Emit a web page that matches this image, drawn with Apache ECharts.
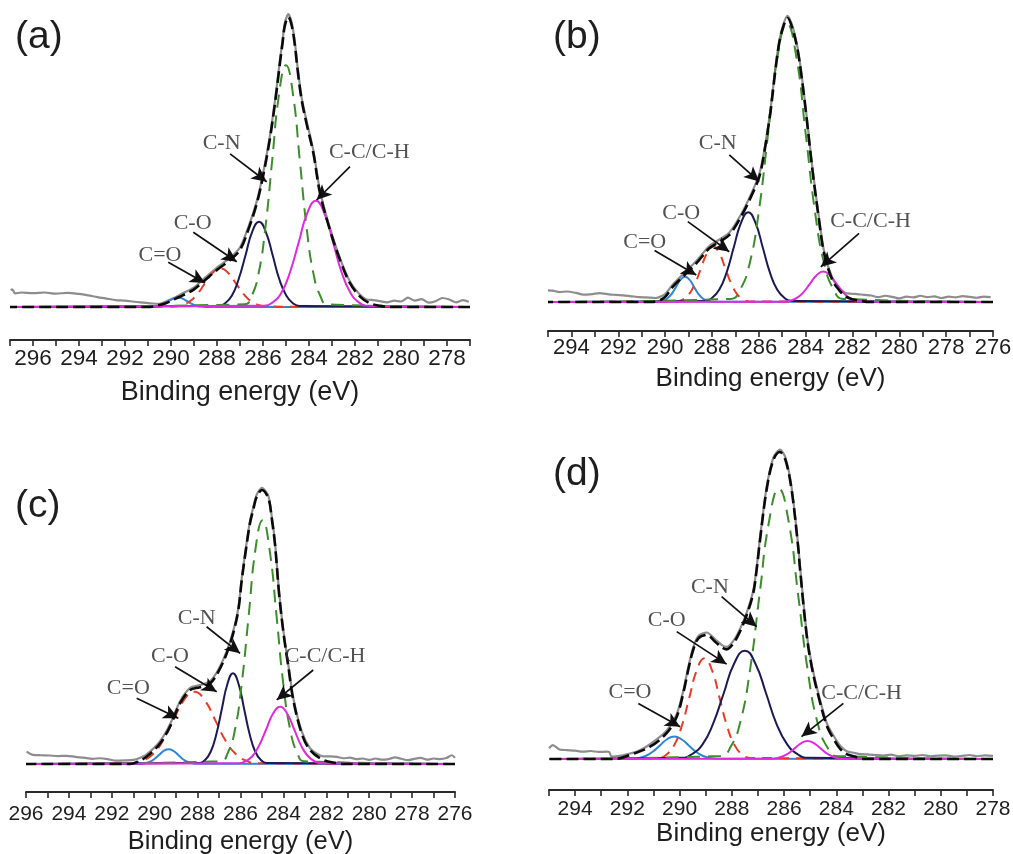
<!DOCTYPE html>
<html>
<head>
<meta charset="utf-8">
<script src="https://cdn.jsdelivr.net/npm/echarts/dist/echarts.min.js"></script>
<style>
  html, body { margin: 0; padding: 0; background: #ffffff; }
  #chart { width: 1013px; height: 854px; }
</style>
</head>
<body>
<div id="chart"></div>
<script>
// ---------- C 1s spectra: binding energy (eV) vs. intensity (peak of fit = 100) ----------

const panelTags = ['(a)', '(b)', '(c)', '(d)'];
const axisTitle = 'Binding energy (eV)';
const energyRanges = [[277, 297], [276, 295], [276, 296], [278, 295]];
const tickLabelsA = [296, 294, 292, 290, 288, 286, 284, 282, 280, 278];
const tickLabelsB = [294, 292, 290, 288, 286, 284, 282, 280, 278, 276];
const tickLabelsC = [296, 294, 292, 290, 288, 286, 284, 282, 280, 278, 276];
const tickLabelsD = [294, 292, 290, 288, 286, 284, 282, 280, 278];

// ----- (a) -----
const aRaw = [[277.05,1.8],[277.3,2.4],[277.6,1.6],[277.9,2.6],[278.2,3.1],[278.5,2.0],[278.8,1.5],[279.1,2.7],[279.4,2.2],[279.7,3.2],[280.0,1.9],[280.3,2.2],[280.6,1.6],[280.9,2.0],[281.2,2.4],[281.5,2.6],[281.8,4.4],[282.22,8.8],[282.65,16.8],[283.09,27.2],[283.52,40],[283.81,54],[284.1,64],[284.32,72.2],[284.5,83],[284.61,91],[284.75,98],[284.9,101],[285.05,98],[285.15,92],[285.25,86],[285.45,73],[285.7,59],[286.0,46],[286.27,36.5],[286.64,27.5],[287.0,20.5],[287.43,17],[288.0,13.6],[288.6,9.5],[289.03,6.6],[289.47,4.8],[289.8,3.4],[290.2,2.0],[290.5,1.1],[290.8,1.2],[291.2,1.5],[291.6,1.8],[292.0,2.2],[292.4,2.4],[292.8,2.9],[293.2,3.4],[293.6,4.0],[294.0,4.5],[294.5,4.9],[295.0,4.6],[295.5,5.0],[296.0,4.8],[296.5,5.0],[296.78,4.7],[296.9,6.1],[296.97,5.8]];
const aFit = [[277,0],[280.5,0],[280.9,0.4],[281.35,1.3],[281.78,3.6],[282.22,8.2],[282.65,16.2],[283.09,26.6],[283.52,39.2],[283.81,53],[284.1,63],[284.32,71.4],[284.5,82],[284.61,90],[284.75,97],[284.9,100],[285.05,97],[285.15,91],[285.25,85],[285.45,72],[285.7,58],[286.0,45],[286.27,35.7],[286.64,26.6],[287.0,19.7],[287.43,16.2],[288.0,12.8],[288.6,8.7],[289.03,5.9],[289.47,4.1],[289.8,2.9],[290.2,1.4],[290.6,0.5],[291.0,0],[297,0]];
const aPeak1 = [[277,0],[288.5,0.04],[288.7,0.15],[288.9,0.45],[289.1,1.07],[289.3,2.0],[289.5,2.91],[289.7,3.3],[289.9,2.91],[290.1,2.0],[290.3,1.07],[290.5,0.45],[290.7,0.15],[290.9,0.04],[297,0]];
const aPeak2 = [[277,0],[285.81,0.15],[286.15,0.58],[286.49,1.8],[286.83,4.32],[287.17,8.07],[287.51,11.73],[287.85,13.3],[288.19,11.73],[288.53,8.07],[288.87,4.32],[289.21,1.8],[289.55,0.58],[289.89,0.15],[297,0]];
const aPeak3 = [[277,0],[284.40,0.33],[284.70,1.29],[284.99,3.97],[285.29,9.55],[285.58,17.84],[285.88,25.93],[286.17,29.4],[286.47,25.93],[286.76,17.84],[287.06,9.55],[287.35,3.97],[287.65,1.29],[287.94,0.33],[297,0]];
const aPeak4 = [[277,0],[283.2,0.93],[283.5,3.67],[283.8,11.26],[284.1,27.1],[284.4,50.6],[284.7,73.56],[285.0,83.4],[285.3,73.56],[285.6,50.6],[285.9,27.1],[286.2,11.26],[286.5,3.67],[286.8,0.93],[297,0]];
const aPeak5 = [[277,0],[281.45,0.41],[281.83,1.61],[282.2,4.94],[282.58,11.9],[282.95,22.2],[283.33,32.28],[283.7,36.6],[284.08,32.28],[284.45,22.2],[284.83,11.9],[285.2,4.94],[285.58,1.61],[285.95,0.41],[297,0]];
// [text, textX, textY, arrowFromX, arrowFromY, arrowToX, arrowToY]
const aNotes = [['C=O',290.48,17.9,290.12,15.4,288.52,8.3],['C-O',289.06,28.9,289.03,25.8,287.14,15.6],['C-N',287.8,56.4,287.43,52.8,285.84,43.2],['C-C/C-H',281.38,53.4,282.22,48.4,283.67,36.9]];

// ----- (b) -----
const bRaw = [[276.1,1.7],[276.4,1.9],[276.7,1.5],[277.0,1.8],[277.3,2.1],[277.6,1.6],[277.9,1.9],[278.2,1.4],[278.5,2.0],[278.8,1.7],[279.1,2.2],[279.4,1.6],[279.7,1.9],[280.0,1.3],[280.3,1.8],[280.6,2.2],[280.9,1.7],[281.2,2.3],[281.5,2.5],[281.8,2.8],[282.05,2.9],[282.3,3.2],[282.57,5.0],[282.86,8.4],[283.21,17.8],[283.43,29.6],[283.71,47.2],[283.99,67.8],[284.2,81.8],[284.35,89.8],[284.55,96.8],[284.77,100.8],[284.95,97.8],[285.13,91.8],[285.3,81.8],[285.5,67.8],[285.77,53.2],[285.98,45],[286.33,38],[286.76,30.8],[287.26,24.4],[287.68,22],[288.11,19.7],[288.67,14.4],[289.17,10.3],[289.67,6.2],[290.0,2.8],[290.4,1.4],[290.8,1.6],[291.1,1.7],[291.5,2.1],[291.8,2.3],[292.1,2.5],[292.4,2.7],[292.8,3.1],[293.1,2.8],[293.5,2.6],[293.8,3.2],[294.2,3.7],[294.5,3.5],[294.8,4.0],[295.0,4.1]];
const bFit = [[276,0],[281.3,0],[281.58,0.3],[282.0,1.0],[282.29,1.9],[282.57,4.2],[282.86,7.7],[283.21,17.1],[283.43,28.9],[283.71,46.5],[283.99,67],[284.2,81],[284.35,89],[284.55,96],[284.77,100],[284.95,97],[285.13,91],[285.3,81],[285.5,67],[285.77,52.4],[285.98,44.1],[286.33,37.1],[286.76,30],[287.26,23.6],[287.68,21.2],[288.11,18.9],[288.67,13.6],[289.17,9.5],[289.67,5.4],[290.0,1.8],[290.3,0.4],[290.6,0],[295,0]];
const bPeak1 = [[276,0],[288.01,0.1],[288.2,0.39],[288.39,1.2],[288.58,2.89],[288.77,5.4],[288.96,7.85],[289.15,8.9],[289.34,7.85],[289.53,5.4],[289.72,2.89],[289.91,1.2],[290.1,0.39],[290.29,0.1],[295,0]];
const bPeak2 = [[276,0],[286.39,0.21],[286.65,0.86],[286.91,2.63],[287.17,6.34],[287.43,11.84],[287.69,17.2],[287.95,19.5],[288.21,17.2],[288.47,11.84],[288.73,6.34],[288.99,2.63],[289.25,0.86],[289.51,0.21],[295,0]];
const bPeak3 = [[276,0],[284.59,0.35],[284.9,1.39],[285.21,4.27],[285.52,10.27],[285.83,19.18],[286.14,27.87],[286.45,31.6],[286.76,27.87],[287.07,19.18],[287.38,10.27],[287.69,4.27],[288.0,1.39],[288.31,0.35],[295,0]];
const bPeak4 = [[276,0],[282.4,1.09],[282.8,4.31],[283.2,13.23],[283.6,31.82],[284.0,59.44],[284.4,86.44],[284.8,98],[285.2,86.44],[285.6,59.44],[286.0,31.82],[286.4,13.23],[286.8,4.31],[287.2,1.09],[295,0]];
const bPeak5 = [[276,0],[281.57,0.12],[281.85,0.47],[282.13,1.44],[282.41,3.47],[282.69,6.49],[282.97,9.44],[283.25,10.7],[283.53,9.44],[283.81,6.49],[284.09,3.47],[284.37,1.44],[284.65,0.47],[284.93,0.12],[295,0]];
const bNotes = [['C=O',290.87,20.9,290.45,18.1,288.67,9.5],['C-O',289.31,31.2,289.03,28.3,287.26,17.7],['C-N',287.75,55.9,287.26,51.8,285.98,42.4],['C-C/C-H',281.23,28.3,281.72,24.2,283.35,12.4]];

// ----- (c) -----
const cRaw = [[276.0,2.3],[276.15,3.2],[276.4,2.2],[276.7,1.8],[277.0,2.0],[277.3,1.6],[277.6,2.2],[277.9,1.9],[278.2,1.4],[278.5,1.9],[278.8,2.4],[279.1,1.8],[279.4,1.6],[279.7,2.0],[280.0,1.5],[280.3,2.0],[280.6,1.8],[280.9,2.3],[281.2,2.1],[281.5,2.6],[281.8,2.8],[282.14,2.8],[282.4,3.6],[282.76,5.8],[283.15,12],[283.54,24.2],[283.77,36.3],[284.0,48.5],[284.2,62.8],[284.39,80.8],[284.55,90.8],[284.7,97.8],[285.0,100.8],[285.24,98.4],[285.4,93.8],[285.56,88.6],[285.75,78.8],[285.94,68],[286.1,57],[286.34,48.5],[286.64,41.2],[287.03,34.5],[287.42,30.2],[287.89,28.8],[288.35,27.8],[288.82,22.9],[289.29,14.4],[289.75,8.3],[290.37,3.5],[290.7,2.2],[291.0,1.5],[291.4,1.3],[291.8,1.2],[292.2,1.8],[292.55,2.1],[292.9,1.9],[293.3,2.3],[293.7,2.6],[294.1,3.0],[294.5,2.9],[294.9,3.1],[295.3,3.2],[295.67,3.3],[295.97,4.5]];
const cFit = [[276,0],[281.2,0],[281.52,0.3],[282.14,1.5],[282.76,5.1],[283.15,11.2],[283.54,23.4],[283.77,35.5],[284.0,48],[284.2,62],[284.39,80],[284.55,90],[284.7,97],[285.0,100],[285.24,97.6],[285.4,93],[285.56,87.8],[285.75,78],[285.94,67.2],[286.1,56.2],[286.34,47.7],[286.64,40.4],[287.03,33.7],[287.42,29.4],[287.89,28],[288.35,27],[288.82,22.1],[289.29,13.6],[289.75,7.5],[290.37,2.7],[290.8,0.8],[291.15,0],[296,0]];
const cPeak1 = [[276,0],[288.0,0.06],[288.23,0.24],[288.45,0.73],[288.68,1.75],[288.9,3.28],[289.13,4.76],[289.35,5.4],[289.58,4.76],[289.8,3.28],[290.03,1.75],[290.25,0.73],[290.48,0.24],[290.7,0.06],[296,0]];
const cPeak2 = [[276,0],[285.24,0.29],[285.73,1.16],[286.21,3.56],[286.7,8.58],[287.18,16.02],[287.67,23.28],[288.15,26.4],[288.64,23.28],[289.12,16.02],[289.61,8.58],[290.09,3.56],[290.58,1.16],[291.06,0.29],[296,0]];
const cPeak3 = [[276,0],[284.79,0.37],[285.05,1.46],[285.31,4.47],[285.57,10.76],[285.83,20.09],[286.09,29.2],[286.35,33.1],[286.61,29.2],[286.87,20.09],[287.13,10.76],[287.39,4.47],[287.65,1.46],[287.91,0.37],[296,0]];
const cPeak4 = [[276,0],[283.02,0.99],[283.35,3.92],[283.67,12.02],[284.0,28.93],[284.32,54.02],[284.65,78.5],[284.97,89],[285.3,78.5],[285.62,54.02],[285.95,28.93],[286.27,12.02],[286.6,3.92],[286.92,0.99],[296,0]];
const cPeak5 = [[276,0],[282.2,0.23],[282.53,0.92],[282.85,2.82],[283.18,6.79],[283.5,12.69],[283.83,18.43],[284.15,20.9],[284.48,18.43],[284.8,12.69],[285.13,6.79],[285.45,2.82],[285.78,0.92],[286.1,0.23],[296,0]];
const cNotes = [['C=O',291.23,27.6,290.84,24.0,288.9,16.7],['C-O',289.29,39.2,289.05,35.5,287.11,26.4],['C-N',288.04,53.2,287.58,50.1,286.02,40.4],['C-C/C-H',282.06,39.2,282.61,34.3,284.31,23.4]];

// ----- (d) -----
const dRaw = [[278.0,1.0],[278.3,1.2],[278.6,0.9],[278.9,1.3],[279.2,1.0],[279.5,0.8],[279.8,1.2],[280.1,1.1],[280.4,0.9],[280.7,1.3],[281.0,1.0],[281.3,1.2],[281.6,0.9],[281.9,1.4],[282.2,1.1],[282.5,1.3],[282.8,1.5],[283.1,1.6],[283.3,2.0],[283.6,2.5],[283.85,4.3],[284.12,7.8],[284.37,11.8],[284.7,21.8],[284.94,30.8],[285.13,40.8],[285.39,62.8],[285.46,69.8],[285.71,88.4],[285.95,98.3],[286.16,100.8],[286.41,98.2],[286.67,88.4],[286.92,72.1],[287.05,62.4],[287.18,54.8],[287.43,47.7],[287.69,42.3],[287.94,38.5],[288.2,36.5],[288.39,37.2],[288.64,39],[288.96,41.2],[289.28,40.1],[289.48,36.3],[289.67,29.8],[289.86,22.2],[290.11,14.6],[290.5,9.2],[291.13,4.8],[291.6,2.5],[291.9,1.8],[292.3,1.0],[292.6,0.8],[292.7,2.3],[292.8,2.4],[293.1,2.3],[293.4,2.6],[293.7,2.4],[294.0,2.7],[294.32,2.9],[294.6,3.1],[294.85,4.5],[295.0,3.5]];
const dFit = [[278,0],[283.0,0],[283.3,0.8],[283.6,1.6],[283.85,3.3],[284.12,6.8],[284.37,11],[284.7,21],[284.94,30],[285.13,40],[285.39,62],[285.46,69],[285.71,87.6],[285.95,97.5],[286.16,100],[286.41,97.4],[286.67,87.6],[286.92,71.3],[287.05,61.6],[287.18,54],[287.43,46.9],[287.69,41.5],[287.94,37.7],[288.2,35.7],[288.39,36.4],[288.64,38.2],[288.96,40.4],[289.28,39.3],[289.48,35.5],[289.67,29],[289.86,21.4],[290.11,13.8],[290.5,8.4],[291.13,4],[291.9,1.3],[292.3,0.2],[292.6,0],[295,0]];
const dPeak1 = [[278,0],[288.55,0.08],[288.83,0.32],[289.1,0.99],[289.38,2.37],[289.65,4.43],[289.93,6.44],[290.2,7.3],[290.48,6.44],[290.75,4.43],[291.03,2.37],[291.3,0.99],[291.58,0.32],[291.85,0.08],[295,0]];
const dPeak2 = [[278,0],[287.31,0.36],[287.6,1.44],[287.89,4.43],[288.18,10.66],[288.47,19.91],[288.76,28.93],[289.05,32.8],[289.34,28.93],[289.63,19.91],[289.92,10.66],[290.21,4.43],[290.5,1.44],[290.79,0.36],[295,0]];
const dPeak3 = [[278,0],[285.07,0.39],[285.48,1.55],[285.88,4.77],[286.29,11.47],[286.69,21.42],[287.1,31.13],[287.5,35.3],[287.91,31.13],[288.31,21.42],[288.72,11.47],[289.12,4.77],[289.53,1.55],[289.93,0.39],[295,0]];
const dPeak4 = [[278,0],[283.98,0.98],[284.35,3.87],[284.72,11.88],[285.09,28.6],[285.46,53.4],[285.83,77.6],[286.2,88],[286.57,77.6],[286.94,53.4],[287.31,28.6],[287.68,11.88],[288.05,3.87],[288.42,0.98],[295,0]];
const dPeak5 = [[278,0],[283.66,0.07],[283.9,0.26],[284.14,0.8],[284.38,1.92],[284.62,3.58],[284.86,5.2],[285.1,5.9],[285.34,5.2],[285.58,3.58],[285.82,1.92],[286.06,0.8],[286.3,0.26],[286.54,0.07],[295,0]];
const dNotes = [['C=O',291.9,21.7,291.58,18.1,289.98,10.5],['C-O',290.49,45.3,290.11,41.5,288.2,30.9],['C-N',288.84,56.1,288.39,52.9,287.05,43.1],['C-C/C-H',283.03,21.4,283.73,18.1,285.33,7.3]];

// ---------- assemble panels ----------
const panels = [
  { raw: aRaw, fit: aFit, peaks: [aPeak1, aPeak2, aPeak3, aPeak4, aPeak5], notes: aNotes, ticks: tickLabelsA },
  { raw: bRaw, fit: bFit, peaks: [bPeak1, bPeak2, bPeak3, bPeak4, bPeak5], notes: bNotes, ticks: tickLabelsB },
  { raw: cRaw, fit: cFit, peaks: [cPeak1, cPeak2, cPeak3, cPeak4, cPeak5], notes: cNotes, ticks: tickLabelsC },
  { raw: dRaw, fit: dFit, peaks: [dPeak1, dPeak2, dPeak3, dPeak4, dPeak5], notes: dNotes, ticks: tickLabelsD }
];

// page layout (pixels): axis ends, baseline, top of fit, axis line, fonts
const layout = [
  { x0: 10,  x1: 470, base: 307, top: 17,  axis: 340, tickFont: 22.5, tickMargin: 7,  titleFont: 27, nameGap: 39, tag: [15, 37] },
  { x0: 548, x1: 993, base: 302, top: 18,  axis: 331, tickFont: 22,   tickMargin: 6,  titleFont: 26, nameGap: 35, tag: [553, 37] },
  { x0: 26,  x1: 455, base: 764, top: 490, axis: 792, tickFont: 21,   tickMargin: 12, titleFont: 25.5, nameGap: 37, tag: [15, 506] },
  { x0: 549, x1: 993, base: 759, top: 452, axis: 790, tickFont: 21,   tickMargin: 9,  titleFont: 26, nameGap: 30, tag: [553, 474] }
];

const Y_MAX = 105;
const sansFont = '"Liberation Sans", Arial, Helvetica, sans-serif';
const serifFont = '"Liberation Serif", "Times New Roman", serif';

// component styles, from high to low binding energy
const peakColors = ['#2e86d8', '#ec3b24', '#1c1a55', '#3b8f2b', '#e02ae0'];
const peakDash = ['solid', [10, 7], 'solid', [13, 8], 'solid'];
const peakZ = [3, 3, 3, 3, 4];

const grids = [], xAxes = [], yAxes = [], series = [], graphics = [];

panels.forEach((p, i) => {
  const L = layout[i];
  const unit = (L.base - L.top) / 100;           // pixels per intensity unit
  const gridTop = L.base - Y_MAX * unit;
  grids.push({
    left: L.x0, width: L.x1 - L.x0,
    top: gridTop, height: L.axis - gridTop,
    containLabel: false, outerBoundsMode: 'none'
  });
  const ticks = p.ticks;
  xAxes.push({
    type: 'value', gridIndex: i, inverse: true,
    min: energyRanges[i][0], max: energyRanges[i][1], interval: 1,
    position: 'bottom',
    axisLine: { show: true, onZero: false, lineStyle: { color: '#2a2a2a', width: 2 } },
    axisTick: { show: true, inside: false, length: 6, lineStyle: { color: '#2a2a2a', width: 1.6 } },
    axisLabel: {
      show: true, margin: L.tickMargin, fontSize: L.tickFont, color: '#1e1e1e',
      fontFamily: sansFont,
      formatter: v => (ticks.indexOf(v) >= 0 ? String(v) : '')
    },
    splitLine: { show: false },
    name: axisTitle, nameLocation: 'middle', nameGap: L.nameGap,
    nameTextStyle: { fontSize: L.titleFont, color: '#1e1e1e', fontFamily: sansFont }
  });
  yAxes.push({
    type: 'value', gridIndex: i, show: false,
    min: -(L.axis - L.base) / unit, max: Y_MAX
  });

  const common = { xAxisIndex: i, yAxisIndex: i, type: 'line', symbol: 'none', silent: true, animation: false, emphasis: { disabled: true } };

  // measured spectrum
  series.push(Object.assign({}, common, {
    data: p.raw, smooth: 0.25, z: 2,
    lineStyle: { color: '#8d8d8d', width: 2.2 }
  }));
  // fitted components
  p.peaks.forEach((pk, k) => {
    series.push(Object.assign({}, common, {
      data: pk, smooth: 0.5, z: peakZ[k],
      lineStyle: { color: peakColors[k], width: 2, type: peakDash[k] }
    }));
  });
  // overall fit envelope
  series.push(Object.assign({}, common, {
    data: p.fit, smooth: 0.35, z: 5,
    lineStyle: { color: '#0a0a0a', width: 2.6, type: [12, 5] }
  }));
  // assignment labels with arrows
  series.push({
    type: 'scatter', xAxisIndex: i, yAxisIndex: i, silent: true, animation: false,
    emphasis: { disabled: true }, z: 6,
    symbolSize: 1, itemStyle: { color: 'rgba(0,0,0,0)' },
    data: p.notes.map(n => [n[1], n[2], n[0]]),
    label: {
      show: true, position: 'inside', formatter: q => q.value[2],
      fontFamily: serifFont, fontSize: 22, color: '#262626'
    },
    markLine: {
      silent: true, animation: false,
      symbol: ['none', 'arrow'], symbolSize: [11, 15],
      lineStyle: { color: '#111', width: 1.7, type: 'solid' },
      label: { show: false },
      emphasis: { disabled: true },
      data: p.notes.map(n => [{ coord: [n[3], n[4]] }, { coord: [n[5], n[6]] }])
    }
  });

  graphics.push({
    type: 'text', x: L.tag[0], y: L.tag[1], silent: true,
    style: { text: panelTags[i], font: '39px ' + sansFont, fill: '#1e1e1e', textVerticalAlign: 'middle', textAlign: 'left' }
  });
});

const chart = echarts.init(document.getElementById('chart'), null, { renderer: 'canvas' });
chart.setOption({
  animation: false,
  backgroundColor: '#ffffff',
  grid: grids,
  xAxis: xAxes,
  yAxis: yAxes,
  series: series,
  graphic: graphics
});
</script>
</body>
</html>
